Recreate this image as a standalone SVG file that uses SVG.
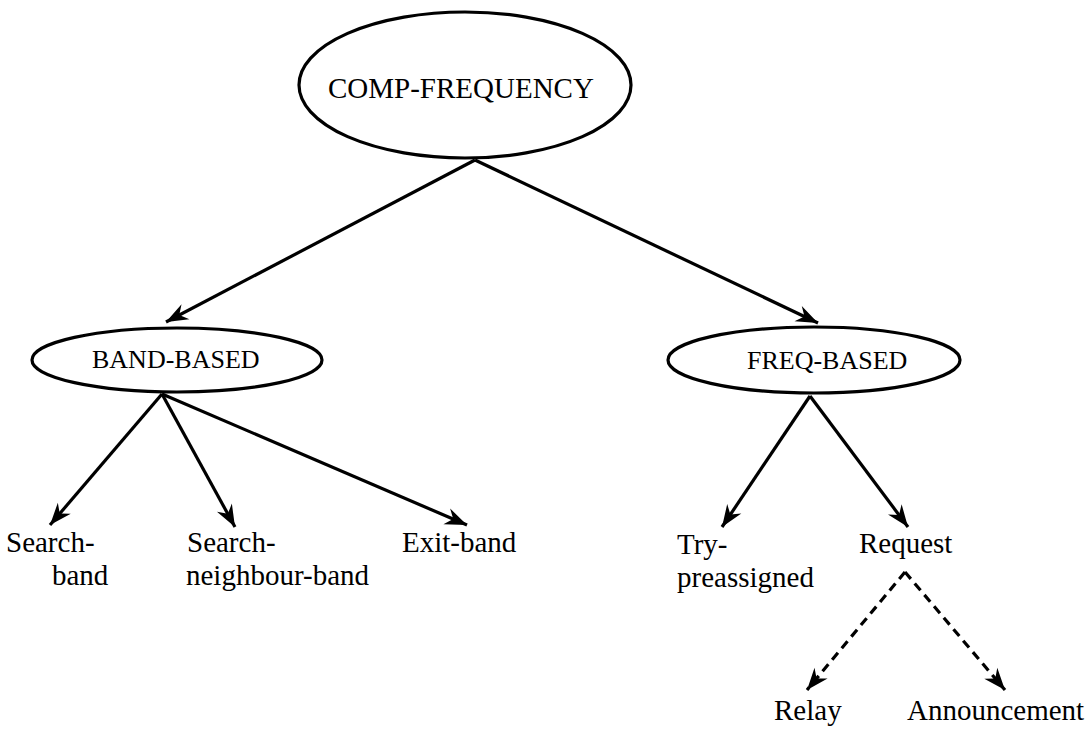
<svg xmlns="http://www.w3.org/2000/svg" width="1088" height="729" viewBox="0 0 1088 729">
  <style>
    .node ellipse { fill: #fff; stroke: #000; stroke-width: 3.2; }
    text { font-family: "Liberation Serif", "Times New Roman", serif; fill: #000; }
    .big { font-size: 29px; }
    .mid { font-size: 26px; }
    .edge { stroke: #000; stroke-width: 3.2; fill: none; marker-end: url(#arrow); }
    .dashed { stroke-dasharray: 9 6; }
  </style>
  <defs>
    <marker id="arrow" markerUnits="userSpaceOnUse" markerWidth="26" markerHeight="20" viewBox="-24 -10 26 20" refX="0" refY="0" orient="auto">
      <path d="M0,0 L-22,-8.5 L-15,0 L-22,8.5 Z" fill="#000"/>
    </marker>
  </defs>
  <rect width="1088" height="729" fill="#fff"/>

  <g id="connectors">
    <line class="edge" x1="475" y1="160" x2="166" y2="322"/>
    <line class="edge" x1="475" y1="160" x2="818" y2="323"/>
    <line class="edge" x1="162" y1="394" x2="50" y2="525"/>
    <line class="edge" x1="162" y1="394" x2="235" y2="527"/>
    <line class="edge" x1="162" y1="394" x2="467" y2="525"/>
    <line class="edge" x1="810" y1="396" x2="722" y2="527"/>
    <line class="edge" x1="810" y1="396" x2="908" y2="527"/>
    <line class="edge dashed" x1="905" y1="572" x2="807" y2="690"/>
    <line class="edge dashed" x1="905" y1="572" x2="1005" y2="690"/>
  </g>

  <g id="comp-frequency" class="node">
    <ellipse cx="465" cy="85" rx="166" ry="73"/>
    <text class="big" x="328" y="98">COMP-FREQUENCY</text>
  </g>
  <g id="band-based" class="node">
    <ellipse cx="177" cy="360" rx="145" ry="32"/>
    <text class="mid" x="92" y="368">BAND-BASED</text>
  </g>
  <g id="freq-based" class="node">
    <ellipse cx="814" cy="360" rx="146" ry="33"/>
    <text class="mid" x="747" y="369">FREQ-BASED</text>
  </g>
  <g id="search-band" class="node">
    <text class="big" x="6" y="552">Search-</text>
    <text class="big" x="52" y="585">band</text>
  </g>
  <g id="search-neighbour-band" class="node">
    <text class="big" x="187" y="552">Search-</text>
    <text class="big" x="186" y="585">neighbour-band</text>
  </g>
  <g id="exit-band" class="node">
    <text class="big" x="402" y="552">Exit-band</text>
  </g>
  <g id="try-preassigned" class="node">
    <text class="big" x="677" y="554">Try-</text>
    <text class="big" x="677" y="587">preassigned</text>
  </g>
  <g id="request" class="node">
    <text class="big" x="859" y="553">Request</text>
  </g>
  <g id="relay" class="node">
    <text class="big" x="774" y="720">Relay</text>
  </g>
  <g id="announcement" class="node">
    <text class="big" x="907" y="720">Announcement</text>
  </g>
</svg>
